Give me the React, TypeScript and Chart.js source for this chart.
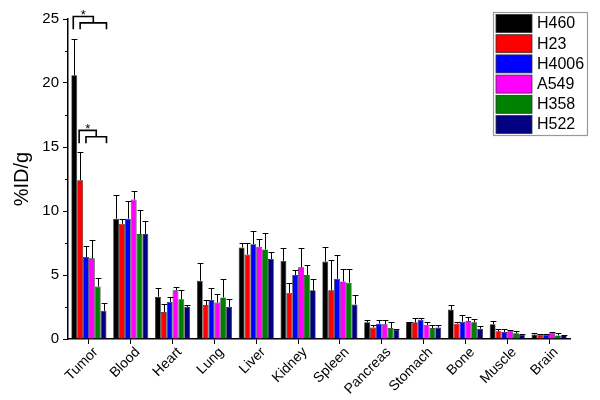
import React, { useEffect, useRef } from "react";
import { Chart, registerables } from "chart.js";

Chart.register(...registerables);

const categories = ["Tumor", "Blood", "Heart", "Lung", "Liver", "Kidney", "Spleen", "Pancreas", "Stomach", "Bone", "Muscle", "Brain"];
const seriesNames = ["H460", "H23", "H4006", "A549", "H358", "H522"];
const seriesColors = ["#000000", "#ff0000", "#0000ff", "#ff00ff", "#008000", "#000080"];

const h460 = [20.6, 9.4, 3.3, 4.55, 7.15, 6.1, 6.05, 1.3, 1.3, 2.3, 1.15, 0.35];
const h460Err = [2.8, 1.85, 0.7, 1.35, 0.35, 1.0, 1.1, 0.2, 0.05, 0.35, 0.25, 0.1];
const h23 = [12.4, 9.0, 2.1, 2.65, 6.6, 3.6, 3.8, 0.9, 1.3, 1.2, 0.6, 0.35];
const h23Err = [2.2, 0.4, 0.6, 0.4, 0.9, 0.75, 2.4, 0.2, 0.35, 0.15, 0.2, 0.05];
const h4006 = [6.4, 9.4, 2.9, 3.05, 7.4, 5.0, 4.7, 1.2, 1.5, 1.35, 0.55, 0.33];
const h4006Err = [0.9, 1.4, 0.35, 0.95, 1.0, 0.4, 1.85, 0.3, 0.15, 0.55, 0.2, 0.05];
const a549 = [6.3, 10.9, 3.8, 2.85, 7.2, 5.6, 4.5, 1.15, 1.1, 1.4, 0.6, 0.45];
const a549Err = [1.4, 0.7, 0.3, 0.65, 0.65, 1.5, 1.0, 0.35, 0.2, 0.35, 0.1, 0.12];
const h358 = [4.1, 8.2, 3.1, 3.25, 7.0, 5.0, 4.4, 0.85, 0.85, 1.3, 0.45, 0.28];
const h358Err = [0.7, 1.9, 0.7, 1.45, 1.25, 0.8, 1.1, 0.45, 0.25, 0.3, 0.15, 0.22];
const h522 = [2.2, 8.2, 2.5, 2.5, 6.25, 3.8, 2.7, 0.7, 0.9, 0.8, 0.35, 0.28];
const h522Err = [0.6, 1.0, 0.15, 0.6, 0.55, 0.9, 0.7, 0.05, 0.2, 0.2, 0.05, 0.05];

const seriesValues = [h460, h23, h4006, a549, h358, h522];
const seriesErrors = [h460Err, h23Err, h4006Err, a549Err, h358Err, h522Err];

// significance brackets: category, single bar, group of bars [first,last], y values
const bracketCategory = [0, 0];
const bracketSingle = [0, 1];
const bracketGroupFirst = [1, 2];
const bracketGroupLast = [5, 5];
const bracketTop = [25.2, 16.3];
const bracketLowerTop = [24.7, 15.8];
const bracketLegBottom = [24.2, 15.3];

const FONT = '"Liberation Sans", Arial, Helvetica, sans-serif';

const errorBarPlugin = {
  id: "errorBars",
  afterDatasetsDraw(chart: any) {
    const ctx = chart.ctx;
    const y = chart.scales.y;
    ctx.save();
    ctx.strokeStyle = "#000";
    ctx.lineWidth = 1;
    chart.data.datasets.forEach((ds: any, i: number) => {
      const meta = chart.getDatasetMeta(i);
      meta.data.forEach((el: any, j: number) => {
        const v = seriesValues[i][j];
        const e = seriesErrors[i][j];
        const x = Math.round(el.x) + 0.5;
        const y0 = y.getPixelForValue(v);
        const y1 = Math.round(y.getPixelForValue(v + e)) + 0.5;
        const hw = el.width / 2;
        ctx.beginPath();
        ctx.moveTo(x, y0);
        ctx.lineTo(x, y1);
        ctx.moveTo(x - hw, y1);
        ctx.lineTo(x + hw, y1);
        ctx.stroke();
      });
    });
    ctx.restore();
  },
};

const bracketPlugin = {
  id: "brackets",
  afterDatasetsDraw(chart: any) {
    const ctx = chart.ctx;
    const y = chart.scales.y;
    ctx.save();
    ctx.strokeStyle = "#000";
    ctx.lineWidth = 1.6;
    ctx.fillStyle = "#000";
    for (let b = 0; b < bracketCategory.length; b++) {
      const c = bracketCategory[b];
      const sEl = chart.getDatasetMeta(bracketSingle[b]).data[c];
      const gA = chart.getDatasetMeta(bracketGroupFirst[b]).data[c];
      const gB = chart.getDatasetMeta(bracketGroupLast[b]).data[c];
      const xs = sEl.x - 1;
      const ga = gA.x;
      const gb = gB.x + gB.width / 2;
      const gm = (ga + gb) / 2;
      const yt = y.getPixelForValue(bracketTop[b]);
      const yl = y.getPixelForValue(bracketLowerTop[b]);
      const yb = y.getPixelForValue(bracketLegBottom[b]);
      ctx.beginPath();
      ctx.moveTo(xs, yb);
      ctx.lineTo(xs, yt);
      ctx.lineTo(gm, yt);
      ctx.lineTo(gm, yl);
      ctx.moveTo(ga, yb);
      ctx.lineTo(ga, yl);
      ctx.lineTo(gb, yl);
      ctx.lineTo(gb, yb);
      ctx.stroke();
      ctx.font = `13px ${FONT}`;
      ctx.textAlign = "center";
      ctx.textBaseline = "alphabetic";
      ctx.fillText("*", (xs + gm) / 2, yt + 3);
    }
    ctx.restore();
  },
};

const minorTickPlugin = {
  id: "minorTicks",
  afterDraw(chart: any) {
    const ctx = chart.ctx;
    const y = chart.scales.y;
    const left = chart.chartArea.left;
    ctx.save();
    ctx.strokeStyle = "#000";
    ctx.lineWidth = 1;
    for (let v = 2.5; v < 25; v += 5) {
      const py = Math.round(y.getPixelForValue(v)) + 0.5;
      ctx.beginPath();
      ctx.moveTo(left - 3, py);
      ctx.lineTo(left, py);
      ctx.stroke();
    }
    ctx.restore();
  },
};

const legendPlugin = {
  id: "customLegend",
  afterDraw(chart: any) {
    const ctx = chart.ctx;
    const bx = 493, by = 12, bw = 94, bh = 123;
    ctx.save();
    ctx.strokeStyle = "#9a9a9a";
    ctx.lineWidth = 1.2;
    ctx.fillStyle = "#fff";
    ctx.fillRect(bx, by, bw, bh);
    ctx.strokeRect(bx + 0.5, by + 0.5, bw, bh);
    ctx.font = `16px ${FONT}`;
    ctx.textAlign = "left";
    ctx.textBaseline = "middle";
    seriesNames.forEach((name, i) => {
      const ry = by + 2.5 + i * 20.2;
      ctx.fillStyle = seriesColors[i];
      ctx.fillRect(bx + 3, ry, 36, 18);
      ctx.strokeStyle = "#333";
      ctx.lineWidth = 0.8;
      ctx.strokeRect(bx + 3, ry, 36, 18);
      ctx.fillStyle = "#000";
      ctx.fillText(name, bx + 44, ry + 9.5);
    });
    ctx.restore();
  },
};

export default function App() {
  const ref = useRef<HTMLCanvasElement>(null);
  useEffect(() => {
    if (!ref.current) return;
    const chart = new Chart(ref.current, {
      type: "bar",
      data: {
        labels: categories,
        datasets: seriesNames.map((name, i) => ({
          label: name,
          data: seriesValues[i],
          backgroundColor: seriesColors[i],
          borderColor: "#222",
          borderWidth: 0.7,
          barPercentage: 1,
          categoryPercentage: 0.84,
        })),
      },
      options: {
        animation: false,
        responsive: false,
        maintainAspectRatio: false,
        layout: { padding: { top: 19, right: 30, left: 0, bottom: 0 } },
        plugins: { legend: { display: false }, tooltip: { enabled: false } },
        scales: {
          x: {
            afterFit: (s: any) => { s.height = 61; },
            grid: { display: true, drawOnChartArea: false, offset: false, tickLength: 5, tickColor: "#000", tickWidth: 1 },
            border: { display: true, color: "#000", width: 1.5 },
            ticks: { color: "#000", font: { family: FONT, size: 14 }, maxRotation: 45, minRotation: 45, padding: 0, labelOffset: 7, autoSkip: false },
          },
          y: {
            min: 0,
            max: 25,
            afterFit: (s: any) => { s.width = 68; },
            grid: { display: true, drawOnChartArea: false, tickLength: 5, tickColor: "#000", tickWidth: 1 },
            border: { display: true, color: "#000", width: 1.5 },
            ticks: { stepSize: 5, color: "#000", font: { family: FONT, size: 15 }, padding: 4 },
            title: { display: true, text: "%ID/g", color: "#000", font: { family: FONT, size: 20 }, padding: { top: 10, bottom: 0 } },
          },
        },
      },
      plugins: [errorBarPlugin, bracketPlugin, minorTickPlugin, legendPlugin],
    });
    return () => chart.destroy();
  }, []);
  return (
    <div style={{ position: "absolute", left: 0, top: 0, width: 600, height: 400, background: "#fff" }}>
      <canvas ref={ref} width={600} height={400} style={{ width: 600, height: 400 }} />
    </div>
  );
}
